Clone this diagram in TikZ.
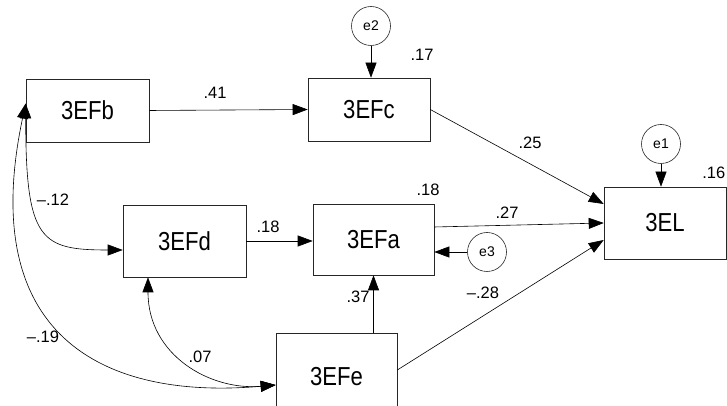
\documentclass[tikz,border=0pt]{standalone}
\usepackage{fontspec}
\setmainfont{Liberation Sans}
\newfontfamily\boxfont[FakeStretch=0.85]{Liberation Sans}
\usetikzlibrary{arrows.meta}
\begin{document}
\begin{tikzpicture}[x=1pt,y=1pt,
  vbox/.style={draw=black!85, line width=0.6pt, rectangle, inner sep=0pt, font=\boxfont\fontsize{26}{26}\selectfont},
  ebox/.style={draw=black!85, line width=0.6pt, circle, minimum size=39pt, inner sep=0pt, font=\fontsize{14}{14}\selectfont},
  coef/.style={font=\fontsize{16.5}{16.5}\selectfont, inner sep=0pt},
  arr/.style={line width=0.6pt, -{Triangle[length=15pt,width=11pt]}},
  cov/.style={line width=0.6pt, {Triangle[length=15pt,width=11pt]}-{Triangle[length=15pt,width=11pt]}}]
\useasboundingbox (0,0) rectangle (727,406);
\fill[white] (0,0) rectangle (727,406);

% variables
\node[vbox, minimum width=123pt, minimum height=63pt] (b) at (87.5,295.5) {3EFb};
\node[vbox, minimum width=122pt, minimum height=63pt] (c) at (369,296.5) {3EFc};
\node[vbox, minimum width=123pt, minimum height=72pt] (d) at (184.5,165) {3EFd};
\node[vbox, minimum width=121pt, minimum height=71pt] (a) at (373.5,166.5) {3EFa};
\node[vbox, minimum width=121pt, minimum height=87pt] (e) at (336.5,29.5) {3EFe};
\node[vbox, minimum width=122pt, minimum height=72pt] (EL) at (665,183) {3EL};

% errors
\node[ebox] (e2) at (371,380) {e2};
\node[ebox] (e1) at (661,262) {e1};
\node[ebox] (e3) at (487,154) {e3};

% paths
\draw[arr] (b.east) -- (c.west);
\draw[arr] (c.east) -- ([yshift=19pt]EL.west);
\draw[arr] ([yshift=12.5pt]a.east) -- (EL.west);
\draw[arr] ([yshift=6.5pt]e.east) -- ([yshift=-17pt]EL.west);
\draw[arr] (d.east) -- (d.east -| a.west);
\draw[arr] (e.north -| a.south) -- (a.south);
\draw[arr] (e3.west) -- (e3.west -| a.east);
\draw[arr] (e2.south) -- (e2.south |- c.north);
\draw[arr] (e1.south) -- (e1.south |- EL.north);

% covariances
\draw[cov] ([yshift=7pt]b.west) to[out=-90,in=180,out looseness=2,in looseness=1.2] ([yshift=-9pt]d.west);
\draw[cov] ([yshift=7pt]b.west) to[out=-102,in=185,out looseness=1.6,in looseness=1.2] ([yshift=-8.5pt]e.west);
\draw[cov] ([xshift=-36.5pt]d.south) to[out=-90,in=185,out looseness=1.2,in looseness=1] ([yshift=-8.5pt]e.west);

% coefficients
\node[coef] (l41) at (215,313) {.41};
\node[coef] (l17) at (422,351) {.17};
\node[coef] (l25) at (530,263) {.25};
\node[coef, anchor=east] (l16) at (725.5,233) {.16};
\node[coef] (l18a) at (428,216) {.18};
\node[coef] (l27) at (507,193) {.27};
\node[coef] (l12) at (53,206) {–.12};
\node[coef] (l18) at (268,179) {.18};
\node[coef] (l37) at (358,109) {.37};
\node[coef] (l28) at (483,113) {–.28};
\node[coef] (l19) at (43,69) {–.19};
\node[coef] (l07) at (200,49) {.07};
\end{tikzpicture}
\end{document}
